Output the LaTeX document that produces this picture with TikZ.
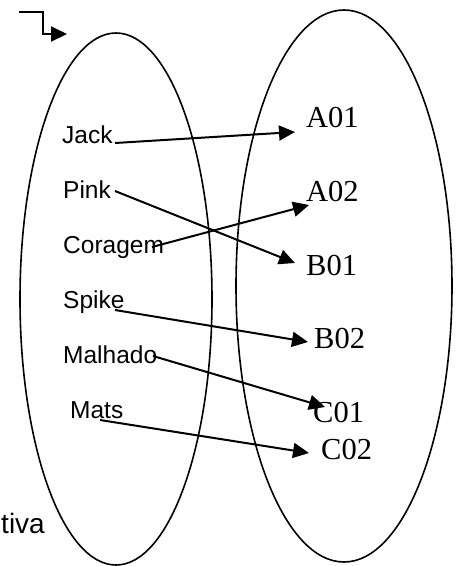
\documentclass[tikz,border=0pt]{standalone}
\usepackage{fontspec}
\setmainfont{Liberation Serif}
\newfontfamily\lblsans{Liberation Sans}
\usetikzlibrary{arrows.meta}
\begin{document}
\begin{tikzpicture}[x=1pt,y=-1pt,
  setline/.style={line width=1.6pt},
  conn/.style={line width=2pt,-{Triangle[length=16pt,width=15pt]}},
  src/.style={anchor=base west,inner sep=0pt,font=\lblsans\fontsize{24.5}{29}\selectfont},
  dst/.style={anchor=base west,inner sep=0pt,font=\fontsize{30.5}{36}\selectfont}]
\useasboundingbox (0,0) rectangle (462,566);
\clip (0,0) rectangle (462,566);
% sets
\draw[setline] (116,299) ellipse [x radius=96, y radius=266];
\draw[setline] (344,286) ellipse [x radius=108, y radius=276];
% top-left symbol
\coordinate (sy0) at (19,12);
\coordinate (sy1) at (43,12);
\coordinate (sy2) at (43,34);
\coordinate (sy3) at (67,34);
\draw[conn] (sy0) -- (sy1) -- (sy2) -- (sy3);
% left labels
\node[src] (jack) at (62,143) {Jack};
\node[src] (pink) at (63,198) {Pink};
\node[src] (coragem) at (63,253) {Coragem};
\node[src] (spike) at (63,308) {Spike};
\node[src] (malhado) at (63,363) {Malhado};
\node[src] (mats) at (70,418) {Mats};
% right labels
\node[dst] (a01) at (306,127) {A01};
\node[dst] (a02) at (306,201) {A02};
\node[dst] (b01) at (306,275) {B01};
\node[dst] (b02) at (314,348) {B02};
\node[dst] (c01) at (313,422) {C01};
\node[dst] (c02) at (321,459) {C02};
% bottom-left text
\node[src,anchor=base east,font=\lblsans\fontsize{28}{33}\selectfont] (tiva) at (45,533) {tiva};
% connector ends
\coordinate (sJack) at (115,143);
\coordinate (sPink) at (115,191);
\coordinate (sCor) at (152,247);
\coordinate (sSpike) at (115,310);
\coordinate (sMal) at (153,356);
\coordinate (sMats) at (100,420);
\coordinate (tA01) at (295,132);
\coordinate (tB01) at (295,263);
\coordinate (tA02) at (309,205);
\coordinate (tB02) at (308,342);
\coordinate (tC01) at (325,407);
\coordinate (tC02) at (309,453);
\draw[conn] (sJack) -- (tA01);
\draw[conn] (sPink) -- (tB01);
\draw[conn] (sCor) -- (tA02);
\draw[conn] (sSpike) -- (tB02);
\draw[conn] (sMal) -- (tC01);
\draw[conn] (sMats) -- (tC02);
\end{tikzpicture}
\end{document}
